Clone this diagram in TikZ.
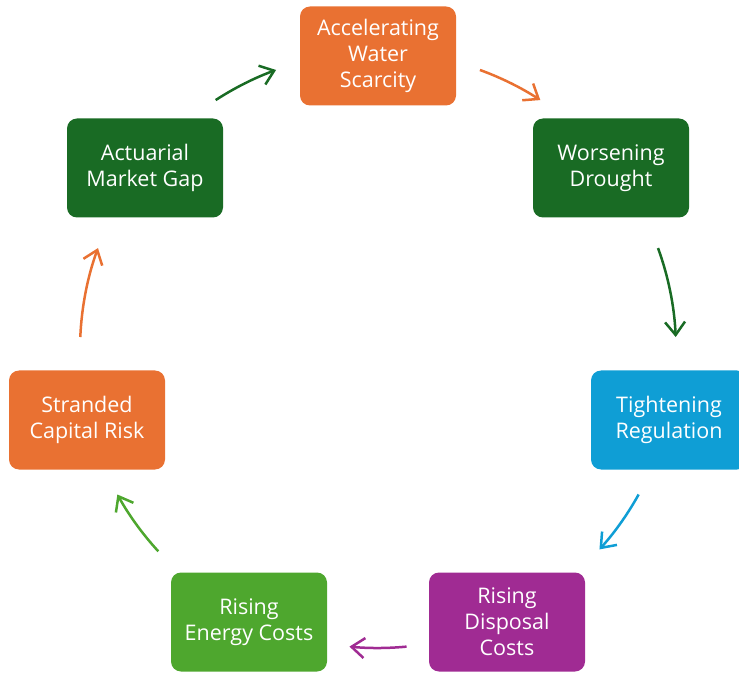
\documentclass[tikz,border=0pt]{standalone}
\usepackage{fontspec}
\setmainfont{Open Sans}
\usetikzlibrary{arrows.meta, positioning}
\definecolor{cycorange}{HTML}{E97132}
\definecolor{cycdkgreen}{HTML}{196B24}
\definecolor{cycblue}{HTML}{0F9ED5}
\definecolor{cycpurple}{HTML}{A02B93}
\definecolor{cycgreen}{HTML}{4EA72E}
\tikzset{
  box/.style={rounded corners=10pt, minimum width=156pt, minimum height=99pt,
    align=center, text=white, font=\fontsize{21.5}{26}\selectfont},
  cyc/.style={line width=2.5pt, -{Straight Barb[length=13pt,width=20pt]}}
}

\begin{document}
\begin{tikzpicture}[x=1pt,y=1pt]
\useasboundingbox (0,0) rectangle (739,673);
\coordinate (ctr) at (378,323);
% the seven stages
\node[box, fill=cycorange] (scarcity) at (378,617) {Accelerating\\Water\\Scarcity};
\node[box, fill=cycdkgreen] (drought) at (611,505) {Worsening\\Drought};
\node[box, fill=cycblue] (regulation) at (669,253) {Tightening\\Regulation};
\node[box, fill=cycpurple] (disposal) at (507,51) {Rising\\Disposal\\Costs};
\node[box, fill=cycgreen] (energy) at (249,51) {Rising\\Energy Costs};
\node[box, fill=cycorange] (stranded) at (87,253) {Stranded\\Capital Risk};
\node[box, fill=cycdkgreen] (gap) at (145,505) {Actuarial\\Market Gap};
% arrows round the cycle
\draw[cyc, cycdkgreen] ([shift={(123:298pt)}]ctr) arc[start angle=123, end angle=110, radius=298pt];
\draw[cyc, cycorange] ([shift={(70:298pt)}]ctr) arc[start angle=70, end angle=57, radius=298pt];
\draw[cyc, cycdkgreen] ([shift={(20:298pt)}]ctr) arc[start angle=20, end angle=2.5, radius=298pt];
\draw[cyc, cycblue] ([shift={(-29:298pt)}]ctr) arc[start angle=-29, end angle=-42, radius=298pt];
\draw[cyc, cycpurple] ([shift={(-84.5:298pt)}]ctr) arc[start angle=-84.5, end angle=-95.5, radius=298pt];
\draw[cyc, cycgreen] ([shift={(-137.5:298pt)}]ctr) arc[start angle=-137.5, end angle=-151, radius=298pt];
\draw[cyc, cycorange] ([shift={(177.5:298pt)}]ctr) arc[start angle=177.5, end angle=160, radius=298pt];
\end{tikzpicture}
\end{document}
